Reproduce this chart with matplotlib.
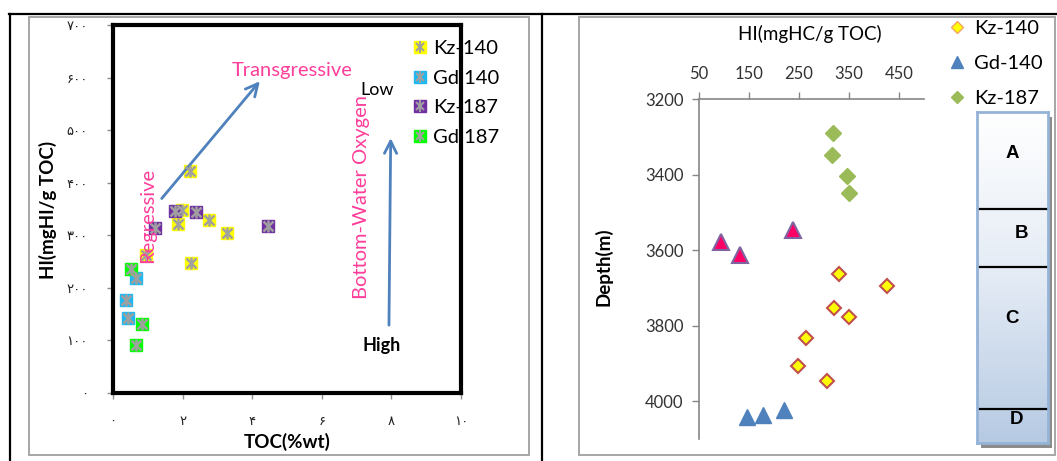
import numpy as np
import matplotlib.pyplot as plt
from matplotlib.lines import Line2D
from matplotlib.patches import Rectangle
from matplotlib.colors import LinearSegmentedColormap

plt.rcParams['font.family'] = ['Lato', 'DejaVu Sans']

W, H = 1057, 461

# ---- left chart: HI vs TOC ----
kz140_toc = [2.22, 1.87, 1.99, 2.76, 3.28, 2.24, 0.96]
kz140_hi = [423, 321, 348, 329, 304, 247, 262]
gd140_toc = [0.66, 0.36, 0.43]
gd140_hi = [218, 177, 142]
kz187_toc = [1.77, 2.39, 1.20, 4.45]
kz187_hi = [347, 344, 313, 318]
gd187_toc = [0.51, 0.83, 0.66]
gd187_hi = [235, 131, 91]

toc_ticks = [0, 2, 4, 6, 8, 10]
hi_ticks = [0, 100, 200, 300, 400, 500, 600, 700]

# ---- right chart: HI vs depth ----
r_kz140_hi = [330, 426, 320, 350, 264, 248, 306]
r_kz140_depth = [3663, 3695, 3753, 3777, 3833, 3907, 3947]
r_gd140_hi = [146, 178, 220]
r_gd140_depth = [4042, 4037, 4024]
r_kz187_hi = [318, 316, 346, 350]
r_kz187_depth = [3290, 3348, 3404, 3448]
r_gd187_hi = [94, 132, 238]
r_gd187_depth = [3578, 3613, 3547]

hi_axis_ticks = [50, 150, 250, 350, 450]
depth_ticks = [3200, 3400, 3600, 3800, 4000]

zones = ['A', 'B', 'C', 'D']
zone_bounds = [3491, 3645, 4021]
zone_label_depth = [3345, 3555, 3780, 4048]
zone_label_x = [0.5, 0.63, 0.5, 0.56]

pink = '#ff3d9a'
arrow_blue = '#4f81bd'


def fa(n):
    return str(n).translate(str.maketrans('0123456789', '۰۱۲۳۴۵۶۷۸۹'))


def fx(x):
    return x / W


def fy(y):
    return 1 - y / H


fig = plt.figure(figsize=(W / 100, H / 100), dpi=100)

# table frame and chart borders
fig.add_artist(Line2D([fx(9), fx(W)], [fy(14), fy(14)], color='black', lw=1.6))
fig.add_artist(Line2D([fx(10), fx(10)], [fy(14), 0], color='black', lw=1.6))
fig.add_artist(Line2D([fx(542), fx(542)], [fy(14), 0], color='black', lw=1.6))
fig.add_artist(Rectangle((fx(29), fy(455)), (529 - 29) / W, (455 - 17) / H,
                         transform=fig.transFigure, fill=False, ec='#a6a6a6', lw=1.4))
fig.add_artist(Rectangle((fx(579), fy(455)), (1055 - 579) / W, (455 - 17) / H,
                         transform=fig.transFigure, fill=False, ec='#a6a6a6', lw=1.4))

# ---------------- left chart ----------------
ax = fig.add_axes([fx(113), fy(393), 348 / W, 368 / H])
ax.set_xlim(0, 10)
ax.set_ylim(0, 700)


def star_series(x, y, color):
    ax.plot(x, y, 's', ms=9, mfc=color, mec=color, zorder=3)
    ax.plot(x, y, 'x', ms=7, mec='#a0a0a0', mew=1.8, zorder=4)
    ax.plot(x, y, '|', ms=9, mec='#a0a0a0', mew=1.8, zorder=4)


star_series(kz140_toc, kz140_hi, '#ffff00')
star_series(gd140_toc, gd140_hi, '#1fb8f0')
star_series(kz187_toc, kz187_hi, '#7030a0')
star_series(gd187_toc, gd187_hi, '#00ff00')

ax.set_xticks(toc_ticks)
ax.set_xticklabels([fa(t) for t in toc_ticks])
ax.set_yticks(hi_ticks)
ax.set_yticklabels([fa(t) for t in hi_ticks])
ax.tick_params(direction='out', length=4, width=1, color='#909090',
               labelsize=9.5, labelcolor='#222222')
ax.tick_params(axis='y', pad=14)
ax.tick_params(axis='x', pad=12)
for sp in ax.spines.values():
    sp.set_linewidth(3)
    sp.set_color('black')
    sp.set_zorder(6)

ax.set_xlabel('TOC(%wt)', fontsize=13.5, fontweight='bold')
ax.xaxis.set_label_coords((287 - 113) / 348, (393 - 442) / 368)
ax.xaxis.label.set_va('center')
ax.set_ylabel('HI(mgHI/g TOC)', fontsize=13.5, fontweight='bold')
ax.yaxis.set_label_coords((48 - 113) / 348, (393 - 210) / 368)
ax.yaxis.label.set_va('center')

ax.annotate('', xy=(4.22, 593), xytext=(1.40, 370),
            arrowprops=dict(arrowstyle='->', color=arrow_blue, lw=2,
                            mutation_scale=22, shrinkA=0, shrinkB=0))
ax.annotate('', xy=(7.98, 485), xytext=(7.93, 129),
            arrowprops=dict(arrowstyle='->', color=arrow_blue, lw=2,
                            mutation_scale=22, shrinkA=0, shrinkB=0))
ax.text(5.16, 614, 'Transgressive', color=pink, fontsize=14.5, ha='center', va='center')
ax.text(1.0, 338, 'Regressive', color=pink, fontsize=14.5, rotation=90,
        ha='center', va='center', zorder=5)
ax.text(7.14, 373, 'Bottom-Water Oxygen', color=pink, fontsize=14.5, rotation=90,
        ha='center', va='center')
ax.text(7.58, 576, 'Low', color='black', fontsize=13, ha='center', va='center')
ax.text(7.73, 91, 'High', color='black', fontsize=13, fontweight='bold',
        ha='center', va='center')


def leg_handle(color):
    return (Line2D([], [], marker='s', ls='', ms=8, mfc=color, mec=color),
            Line2D([], [], marker='x', ls='', ms=6, mec='#a0a0a0', mew=1.5),
            Line2D([], [], marker='|', ls='', ms=8, mec='#a0a0a0', mew=1.5))


leg = ax.legend([leg_handle('#ffff00'), leg_handle('#1fb8f0'),
                 leg_handle('#7030a0'), leg_handle('#00ff00')],
                ['Kz-140', 'Gd 140', 'Kz-187', 'Gd 187'],
                loc='upper left', bbox_to_anchor=((413 - 113) / 348, (393 - 40) / 368),
                frameon=False, fontsize=14.5, handlelength=0.65, handletextpad=0.35,
                labelspacing=0.62, borderpad=0, borderaxespad=0)
leg.set_zorder(2)

# ---------------- right chart ----------------
ax2 = fig.add_axes([fx(699), fy(439), 225 / W, 340 / H])
ax2.set_xlim(50, 500)
ax2.set_ylim(4100, 3200)
ax2.plot(r_kz140_hi, r_kz140_depth, 'D', ms=7, mfc='#ffff00', mec='#c0504d',
         mew=1.5, label='Kz-140', zorder=3)
ax2.plot(r_gd140_hi, r_gd140_depth, '^', ms=11, mfc='#4f81bd', mec='#4f81bd',
         label='Gd-140', zorder=3)
ax2.plot(r_kz187_hi, r_kz187_depth, 'D', ms=8, mfc='#9bbb59', mec='#9bbb59',
         label='Kz-187', zorder=3)
ax2.plot(r_gd187_hi, r_gd187_depth, '^', ms=11, mfc='#ff0066', mec='#8064a2',
         mew=1.5, zorder=3)

ax2.xaxis.tick_top()
ax2.set_xticks(hi_axis_ticks)
ax2.set_yticks(depth_ticks)
ax2.tick_params(direction='out', length=5, width=1, color='#868686',
                labelsize=12, labelcolor='#333333')
ax2.tick_params(axis='y', pad=6)
ax2.tick_params(axis='x', pad=7)
for side in ['bottom', 'right']:
    ax2.spines[side].set_visible(False)
for side in ['top', 'left']:
    ax2.spines[side].set_color('#868686')
    ax2.spines[side].set_linewidth(1.2)

ax2.set_xlabel('HI(mgHC/g TOC)', fontsize=13.5)
ax2.xaxis.set_label_position('top')
ax2.xaxis.set_label_coords((810 - 699) / 225, (439 - 34) / 340)
ax2.xaxis.label.set_va('center')
ax2.set_ylabel('Depth(m)', fontsize=13.5, fontweight='bold')
ax2.yaxis.set_label_coords((603 - 699) / 225, (439 - 267) / 340)
ax2.yaxis.label.set_va('center')

fig.legend(handles=[Line2D([], [], marker='D', ls='', ms=6, mfc='#ffff00', mec='#f4a460', mew=1),
                    Line2D([], [], marker='^', ls='', ms=9, mfc='#4f81bd', mec='#4f81bd'),
                    Line2D([], [], marker='D', ls='', ms=6, mfc='#9bbb59', mec='#9bbb59')],
           labels=['Kz-140', 'Gd-140', 'Kz-187'],
           loc='upper left', bbox_to_anchor=(fx(949), fy(20)), frameon=False,
           fontsize=14.5, handlelength=0.8, handletextpad=0.45, labelspacing=0.88,
           borderpad=0, borderaxespad=0)

# zone column
fig.add_artist(Rectangle((fx(981), fy(448)), 71 / W, 331 / H,
                         transform=fig.transFigure, fc='#8c8c8c', ec='none', zorder=0))
col = fig.add_axes([fx(977), fy(443), 71 / W, 331 / H])
col.set_zorder(1)
grad = LinearSegmentedColormap.from_list('col', ['#ffffff', '#e4ebf5', '#b6cae3'])
col.imshow(np.linspace(0, 1, 256).reshape(-1, 1), cmap=grad, aspect='auto',
           extent=[0, 1, 4111, 3234])
col.set_xlim(0, 1)
col.set_ylim(4111, 3234)
for b in zone_bounds:
    col.axhline(b, color='black', lw=1.6)
for name, d, x in zip(zones, zone_label_depth, zone_label_x):
    col.text(x, d, name, fontsize=13.5, fontweight='bold', family='Liberation Sans',
             ha='center', va='center')
col.set_xticks([])
col.set_yticks([])
for sp in col.spines.values():
    sp.set_color('#95b3d7')
    sp.set_linewidth(2)

fig.savefig('out.png', dpi=100)
